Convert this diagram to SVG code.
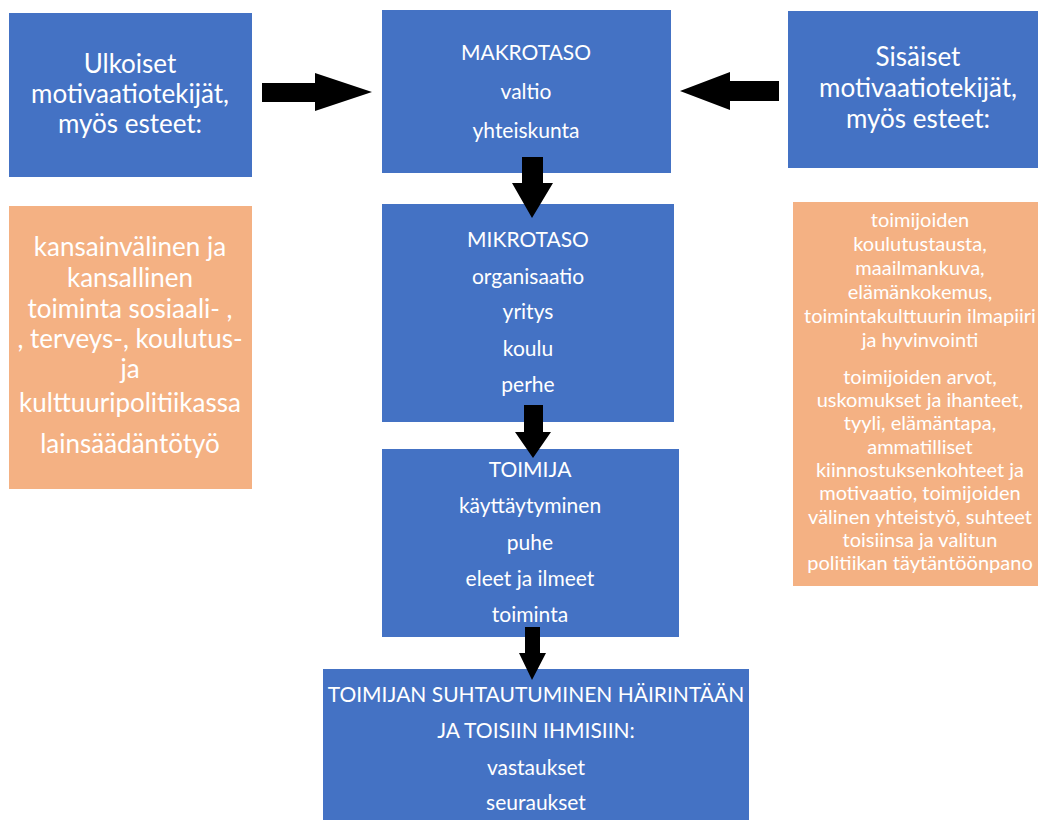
<svg xmlns="http://www.w3.org/2000/svg" width="1038" height="820" viewBox="0 0 1038 820">
<style>
.blue{fill:#4472C4}
.orange{fill:#F4B183}
text{font-family:Lato,"Open Sans","Liberation Sans",sans-serif;fill:#ffffff;text-anchor:middle}
.big{font-size:26px}
.mid{font-size:21px}
.org{font-size:26px}
.sm{font-size:20px}
.arrow{fill:#000000}
</style>
<rect width="1038" height="820" fill="#ffffff"/>
<g id="ulkoiset">
<rect class="blue" x="9" y="13" width="243" height="164"/>
<text class="big" x="130" y="73">Ulkoiset</text>
<text class="big" x="130" y="103">motivaatiotekijät,</text>
<text class="big" x="130" y="133">myös esteet:</text>
</g>
<g id="ulkoiset-list">
<rect class="orange" x="9" y="206" width="243" height="283"/>
<text class="org" x="130" y="256">kansainvälinen ja</text>
<text class="org" x="130" y="287">kansallinen</text>
<text class="org" x="130" y="318">toiminta sosiaali- ,</text>
<text class="org" x="130" y="348">, terveys-, koulutus-</text>
<text class="org" x="130" y="378">ja</text>
<text class="org" x="130" y="412">kulttuuripolitiikassa</text>
<text class="org" x="130" y="453">lainsäädäntötyö</text>
</g>
<g id="makrotaso">
<rect class="blue" x="382" y="10" width="289" height="163"/>
<text class="mid" x="526" y="60">MAKROTASO</text>
<text class="mid" x="526" y="99">valtio</text>
<text class="mid" x="526" y="138">yhteiskunta</text>
</g>
<g id="sisaiset">
<rect class="blue" x="788" y="11" width="260" height="157"/>
<text class="big" x="918" y="66">Sisäiset</text>
<text class="big" x="918" y="97">motivaatiotekijät,</text>
<text class="big" x="918" y="128">myös esteet:</text>
</g>
<g id="sisaiset-list">
<rect class="orange" x="793" y="202" width="260" height="384"/>
<text class="sm" x="920" y="227">toimijoiden</text>
<text class="sm" x="920" y="251">koulutustausta,</text>
<text class="sm" x="920" y="275">maailmankuva,</text>
<text class="sm" x="920" y="299">elämänkokemus,</text>
<text class="sm" x="920" y="323">toimintakulttuurin ilmapiiri</text>
<text class="sm" x="920" y="347">ja hyvinvointi</text>
<text class="sm" x="920" y="384">toimijoiden arvot,</text>
<text class="sm" x="920" y="407">uskomukset ja ihanteet,</text>
<text class="sm" x="920" y="430">tyyli, elämäntapa,</text>
<text class="sm" x="920" y="454">ammatilliset</text>
<text class="sm" x="920" y="477">kiinnostuksenkohteet ja</text>
<text class="sm" x="920" y="500">motivaatio, toimijoiden</text>
<text class="sm" x="920" y="524">välinen yhteistyö, suhteet</text>
<text class="sm" x="920" y="547">toisiinsa ja valitun</text>
<text class="sm" x="920" y="570">politiikan täytäntöönpano</text>
</g>
<g id="mikrotaso">
<rect class="blue" x="382" y="204" width="292" height="218"/>
<text class="mid" x="528" y="247">MIKROTASO</text>
<text class="mid" x="528" y="284">organisaatio</text>
<text class="mid" x="528" y="319">yritys</text>
<text class="mid" x="528" y="356">koulu</text>
<text class="mid" x="528" y="392">perhe</text>
</g>
<g id="toimija">
<rect class="blue" x="382" y="449" width="297" height="188"/>
<text class="mid" x="530" y="477">TOIMIJA</text>
<text class="mid" x="530" y="513">käyttäytyminen</text>
<text class="mid" x="530" y="550">puhe</text>
<text class="mid" x="530" y="586">eleet ja ilmeet</text>
<text class="mid" x="530" y="622">toiminta</text>
</g>
<g id="suhtautuminen">
<rect class="blue" x="323" y="669" width="426" height="160"/>
<text class="mid" x="536" y="702">TOIMIJAN SUHTAUTUMINEN HÄIRINTÄÄN</text>
<text class="mid" x="536" y="738">JA TOISIIN IHMISIIN:</text>
<text class="mid" x="536" y="775">vastaukset</text>
<text class="mid" x="536" y="810">seuraukset</text>
</g>
<g id="connectors">
<polygon class="arrow" points="262,83 315,83 315,73 372,92 315,111 315,102 262,102"/>
<polygon class="arrow" points="779,81 730,81 730,72 680,91 730,110 730,101 779,101"/>
<polygon class="arrow" points="522,157 543,157 543,183 553,183 532,218 512,183 522,183"/>
<polygon class="arrow" points="524,405 543,405 543,432 551,432 533,458 515,432 524,432"/>
<polygon class="arrow" points="525,627 540,627 540,653 546,653 532,680 519,653 525,653"/>
</g>
</svg>
